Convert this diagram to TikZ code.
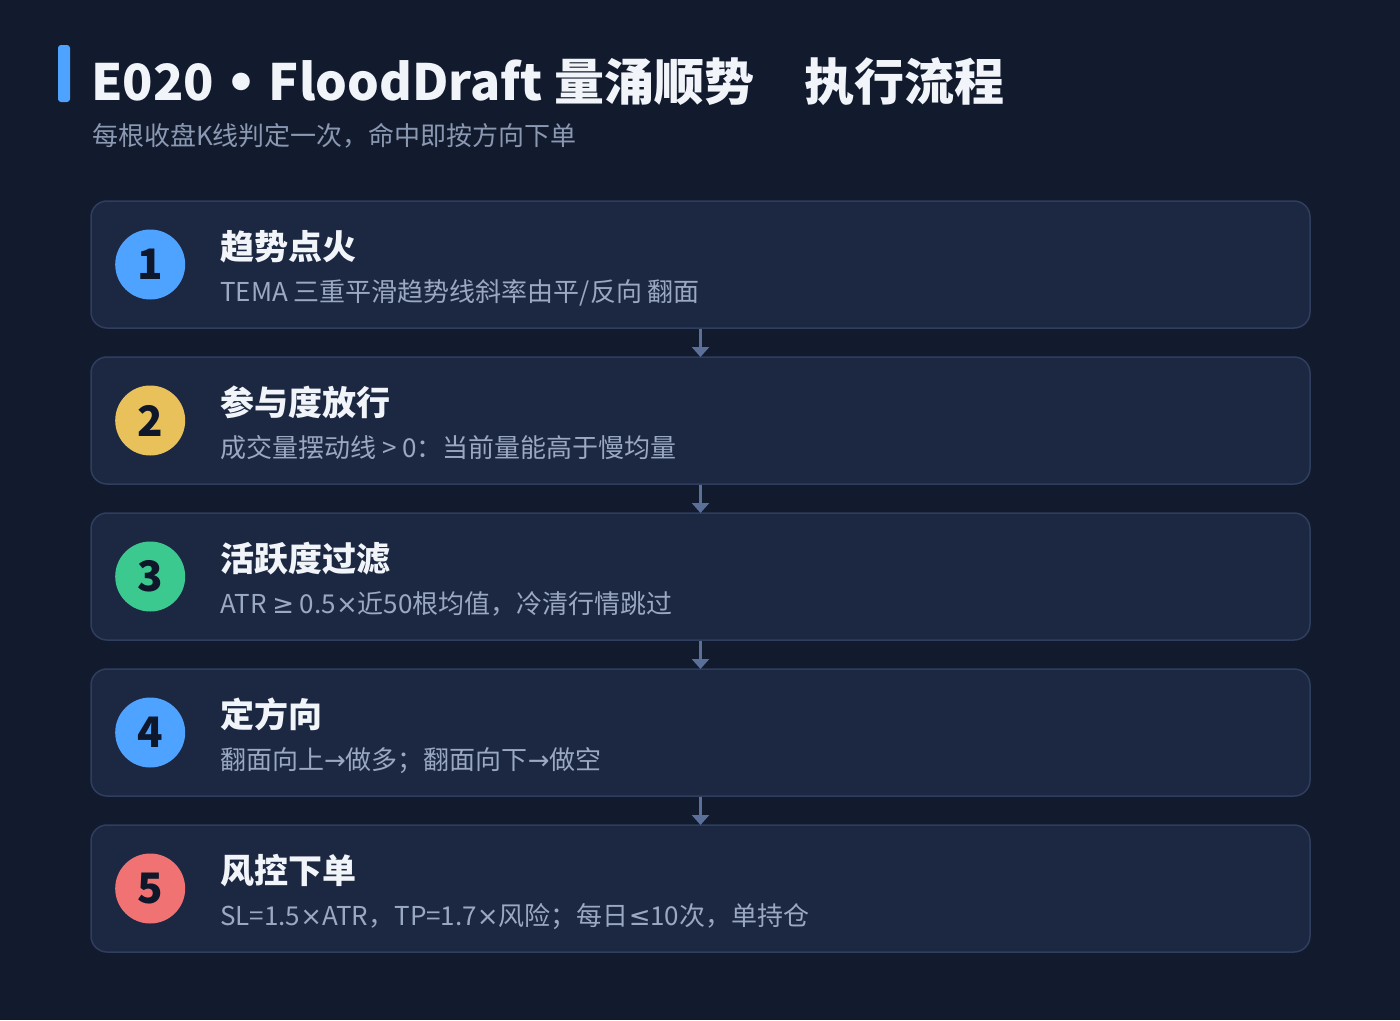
\documentclass[tikz,border=0pt]{standalone}
\usepackage{fontspec}
\setmainfont{Noto Sans CJK SC}
\newfontfamily\symfont{DejaVu Sans}
\usepackage{xcolor}
\usepackage{tikz}
\usetikzlibrary{positioning, arrows.meta}

\definecolor{bgdark}{HTML}{121A2D}
\definecolor{boxfill}{HTML}{1C2742}
\definecolor{boxline}{HTML}{2F3E5E}
\definecolor{headtext}{HTML}{F1F5F9}
\definecolor{subtext}{HTML}{8A98B2}
\definecolor{desctext}{HTML}{9AA8C0}
\definecolor{numtext}{HTML}{0F172A}
\definecolor{accentblue}{HTML}{4DA3FF}
\definecolor{accentyellow}{HTML}{E8C15A}
\definecolor{accentgreen}{HTML}{3CC98F}
\definecolor{accentred}{HTML}{F07272}
\definecolor{linkcol}{HTML}{5B7099}

\newcommand{\sym}[1]{{\symfont #1}}

\begin{document}
\begin{tikzpicture}[
  x=1pt, y=-1pt,
  stepbox/.style={rectangle, draw=boxline, line width=1.5pt, rounded corners=16pt, fill=boxfill, minimum width=1219pt, minimum height=127pt, inner sep=0pt, outer sep=0pt},
  badge/.style={circle, minimum size=70pt, inner sep=0pt, text=numtext, font=\fontsize{42}{42}\selectfont\bfseries},
  steptitle/.style={anchor=base west, inner sep=0pt, text=headtext, font=\fontsize{34}{40}\selectfont\bfseries},
  stepdesc/.style={anchor=base west, inner sep=0pt, text=desctext, font=\fontsize{26}{30}\selectfont},
  link/.style={-{Triangle[width=17pt, length=10pt]}, line width=2.5pt, draw=linkcol, shorten <=1pt}
]

% Background
\fill[bgdark] (0,0) rectangle (1400,1020);
\useasboundingbox (0,0) rectangle (1400,1020);

% Header
\fill[accentblue, rounded corners=3pt] (58,45) rectangle (70,102);
\node[anchor=base west, inner sep=0pt, text=headtext, font=\fontsize{50}{56}\selectfont\bfseries] (title) at (91,100) {E020 \sym{•} FloodDraft 量涌顺势　执行流程};
\node[anchor=base west, inner sep=0pt, text=subtext, font=\fontsize{26}{30}\selectfont] (subtitle) at (92,145) {每根收盘K线判定一次，命中即按方向下单};

% Steps
\node[stepbox] (step1) at (700.5,264.5) {};
\node[stepbox, below=29pt of step1] (step2) {};
\node[stepbox, below=29pt of step2] (step3) {};
\node[stepbox, below=29pt of step3] (step4) {};
\node[stepbox, below=29pt of step4] (step5) {};

% Badges
\node[badge, fill=accentblue, right=24pt of step1.west] (num1) {1};
\node[badge, fill=accentyellow, right=24pt of step2.west] (num2) {2};
\node[badge, fill=accentgreen, right=24pt of step3.west] (num3) {3};
\node[badge, fill=accentblue, right=24pt of step4.west] (num4) {4};
\node[badge, fill=accentred, right=24pt of step5.west] (num5) {5};

% Texts
\node[steptitle] (title1) at ([shift={(129pt,-58pt)}]step1.north west) {趋势点火};
\node[stepdesc] (desc1) at ([shift={(129pt,-100pt)}]step1.north west) {TEMA 三重平滑趋势线斜率由平/反向 翻面};
\node[steptitle] (title2) at ([shift={(129pt,-58pt)}]step2.north west) {参与度放行};
\node[stepdesc] (desc2) at ([shift={(129pt,-100pt)}]step2.north west) {成交量摆动线 > 0：当前量能高于慢均量};
\node[steptitle] (title3) at ([shift={(129pt,-58pt)}]step3.north west) {活跃度过滤};
\node[stepdesc] (desc3) at ([shift={(129pt,-100pt)}]step3.north west) {ATR \sym{≥} 0.5\sym{×}近50根均值，冷清行情跳过};
\node[steptitle] (title4) at ([shift={(129pt,-58pt)}]step4.north west) {定方向};
\node[stepdesc] (desc4) at ([shift={(129pt,-100pt)}]step4.north west) {翻面向上\sym{→}做多；翻面向下\sym{→}做空};
\node[steptitle] (title5) at ([shift={(129pt,-58pt)}]step5.north west) {风控下单};
\node[stepdesc] (desc5) at ([shift={(129pt,-100pt)}]step5.north west) {SL=1.5\sym{×}ATR，TP=1.7\sym{×}风险；每日\sym{≤}10次，单持仓};

% Connections
\draw[link] (step1.south) -- (step2.north);
\draw[link] (step2.south) -- (step3.north);
\draw[link] (step3.south) -- (step4.north);
\draw[link] (step4.south) -- (step5.north);

\end{tikzpicture}
\end{document}
